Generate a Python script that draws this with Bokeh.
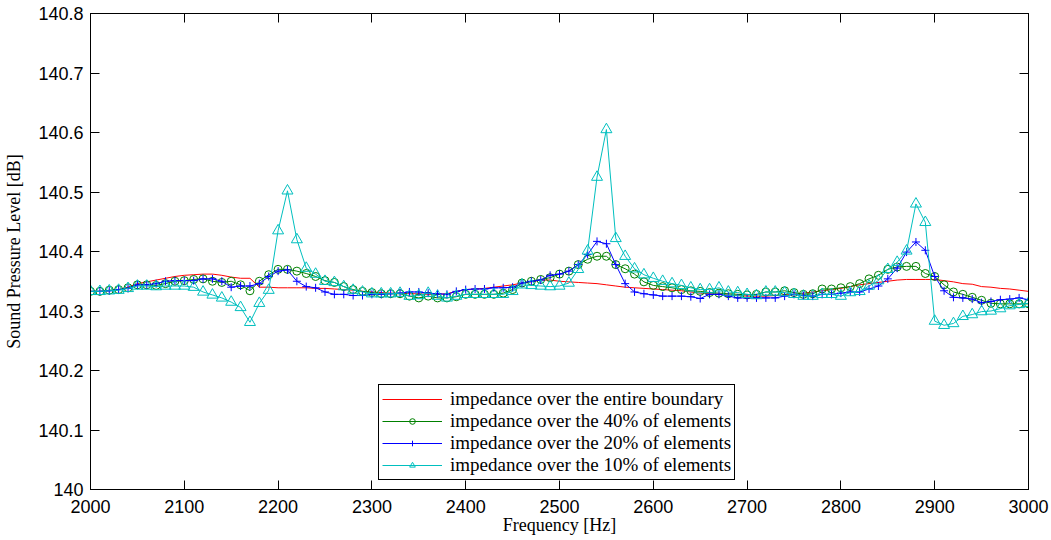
from bokeh.plotting import figure
from bokeh.models import (Range1d, FixedTicker, LinearAxis, Legend, LegendItem)
from bokeh.embed import file_html
from bokeh.resources import INLINE

freq = list(range(2000, 3001, 10))

spl_entire = [
    140.333, 140.333, 140.334, 140.336, 140.340, 140.346, 140.349, 140.352, 140.355, 140.358,
    140.360, 140.361, 140.362, 140.362, 140.360, 140.357, 140.355, 140.355, 140.340, 140.340,
    140.339, 140.339, 140.339, 140.339, 140.338, 140.338, 140.337, 140.336, 140.335, 140.333,
    140.332, 140.331, 140.330, 140.330, 140.329, 140.329, 140.328, 140.328, 140.329, 140.333,
    140.336, 140.337, 140.338, 140.340, 140.342, 140.344, 140.347, 140.349, 140.352, 140.352,
    140.350, 140.349, 140.348, 140.347, 140.346, 140.344, 140.342, 140.340, 140.339, 140.338,
    140.337, 140.336, 140.335, 140.334, 140.332, 140.330, 140.329, 140.328, 140.327, 140.326,
    140.325, 140.325, 140.325, 140.326, 140.327, 140.328, 140.330, 140.332, 140.334, 140.336,
    140.338, 140.341, 140.344, 140.346, 140.348, 140.350, 140.352, 140.353, 140.353, 140.353,
    140.353, 140.351, 140.349, 140.346, 140.345, 140.341, 140.340, 140.338, 140.337, 140.335,
    140.333]

spl_40 = [
    140.333, 140.333, 140.335, 140.336, 140.339, 140.344, 140.344, 140.343, 140.346, 140.350,
    140.351, 140.353, 140.354, 140.350, 140.348, 140.350, 140.344, 140.334, 140.350, 140.361,
    140.370, 140.370, 140.367, 140.363, 140.358, 140.351, 140.348, 140.341, 140.336, 140.333,
    140.331, 140.329, 140.329, 140.329, 140.325, 140.322, 140.325, 140.322, 140.322, 140.324,
    140.328, 140.328, 140.328, 140.328, 140.330, 140.336, 140.347, 140.350, 140.353, 140.356,
    140.362, 140.367, 140.378, 140.387, 140.392, 140.392, 140.378, 140.371, 140.362, 140.349,
    140.343, 140.341, 140.339, 140.336, 140.334, 140.333, 140.331, 140.330, 140.329, 140.328,
    140.327, 140.328, 140.332, 140.332, 140.334, 140.331, 140.328, 140.329, 140.337, 140.337,
    140.339, 140.341, 140.346, 140.354, 140.360, 140.370, 140.374, 140.375, 140.375, 140.363,
    140.358, 140.344, 140.332, 140.328, 140.323, 140.318, 140.313, 140.312, 140.312, 140.312,
    140.312]

spl_20 = [
    140.333, 140.333, 140.334, 140.336, 140.338, 140.344, 140.344, 140.346, 140.350, 140.351,
    140.351, 140.351, 140.354, 140.354, 140.350, 140.340, 140.342, 140.342, 140.346, 140.358,
    140.367, 140.369, 140.350, 140.341, 140.339, 140.332, 140.328, 140.328, 140.326, 140.326,
    140.328, 140.328, 140.329, 140.330, 140.332, 140.332, 140.330, 140.329, 140.328, 140.333,
    140.336, 140.337, 140.337, 140.339, 140.339, 140.340, 140.347, 140.350, 140.352, 140.360,
    140.362, 140.367, 140.378, 140.395, 140.417, 140.413, 140.378, 140.346, 140.332, 140.329,
    140.327, 140.325, 140.325, 140.325, 140.324, 140.321, 140.328, 140.328, 140.325, 140.322,
    140.322, 140.322, 140.322, 140.322, 140.325, 140.328, 140.326, 140.325, 140.328, 140.328,
    140.330, 140.332, 140.332, 140.337, 140.342, 140.354, 140.372, 140.399, 140.416, 140.402,
    140.358, 140.334, 140.323, 140.322, 140.320, 140.314, 140.316, 140.319, 140.320, 140.322,
    140.319]

spl_10 = [
    140.333, 140.333, 140.334, 140.335, 140.338, 140.342, 140.342, 140.341, 140.342, 140.342,
    140.342, 140.340, 140.332, 140.327, 140.322, 140.315, 140.306, 140.281, 140.313, 140.335,
    140.435, 140.502, 140.420, 140.372, 140.362, 140.350, 140.348, 140.341, 140.335, 140.332,
    140.329, 140.329, 140.329, 140.330, 140.325, 140.326, 140.330, 140.325, 140.322, 140.325,
    140.328, 140.328, 140.328, 140.328, 140.328, 140.333, 140.344, 140.343, 140.342, 140.341,
    140.342, 140.347, 140.370, 140.401, 140.525, 140.605, 140.422, 140.392, 140.371, 140.361,
    140.355, 140.350, 140.346, 140.343, 140.339, 140.336, 140.336, 140.339, 140.332, 140.331,
    140.328, 140.326, 140.332, 140.332, 140.331, 140.328, 140.325, 140.325, 140.328, 140.328,
    140.325, 140.331, 140.333, 140.342, 140.351, 140.370, 140.382, 140.401, 140.480, 140.449,
    140.283, 140.276, 140.279, 140.291, 140.294, 140.299, 140.300, 140.304, 140.309, 140.311,
    140.313]

x_ticks = [2000, 2100, 2200, 2300, 2400, 2500, 2600, 2700, 2800, 2900, 3000]
y_ticks = [140.0, 140.1, 140.2, 140.3, 140.4, 140.5, 140.6, 140.7, 140.8]
y_tick_labels = ["140", "140.1", "140.2", "140.3", "140.4", "140.5", "140.6", "140.7", "140.8"]

labels = ["impedance over the entire boundary",
          "impedance over the 40% of elements",
          "impedance over the 20% of elements",
          "impedance over the 10% of elements"]

SANS = "Liberation Sans"
SERIF = "Liberation Serif"

p = figure(width=1051, height=540, output_backend="svg", toolbar_location=None,
           x_range=Range1d(2000, 3000), y_range=Range1d(140, 140.8),
           min_border_left=90, min_border_right=23, min_border_top=13, min_border_bottom=51)
p.xgrid.visible = False
p.ygrid.visible = False
p.outline_line_color = "black"
p.outline_line_width = 1
p.outline_line_alpha = 1
p.background_fill_color = "white"
p.border_fill_color = "white"


def style_axis(ax, ticks, show_labels=True):
    ax.ticker = FixedTicker(ticks=ticks)
    ax.major_tick_in = 9
    ax.major_tick_out = 0
    ax.minor_tick_line_color = None
    ax.axis_line_color = "black"
    ax.major_tick_line_color = "black"
    ax.major_label_text_font = SANS
    if show_labels:
        ax.major_label_text_font_size = "18px"
        ax.major_label_text_color = "black"
    else:
        ax.major_label_text_font_size = "0px"
        ax.major_label_text_color = None
        ax.major_label_standoff = 0
    ax.axis_label_text_font = SERIF
    ax.axis_label_text_font_size = "18px"
    ax.axis_label_text_font_style = "normal"
    ax.axis_label_text_color = "black"


xa = p.xaxis[0]
ya = p.yaxis[0]
style_axis(xa, x_ticks)
style_axis(ya, y_ticks)
xa.axis_label = "Frequency [Hz]"
ya.axis_label = "Sound Pressure Level [dB]"
xa.major_label_standoff = 10
xa.axis_label_standoff = -1
ya.major_label_standoff = 7
ya.axis_label_standoff = 11
ya.major_label_overrides = {t: l for t, l in zip(y_ticks, y_tick_labels)}

top_ax = LinearAxis()
style_axis(top_ax, x_ticks, show_labels=False)
p.add_layout(top_ax, "above")
right_ax = LinearAxis()
style_axis(right_ax, y_ticks, show_labels=False)
p.add_layout(right_ax, "right")

RED = "#ff0000"
GREEN = "#008000"
BLUE = "#0000ff"
CYAN = "#00bfbf"

r0 = p.line(freq, spl_entire, line_color=RED, line_width=1)
l1 = p.line(freq, spl_40, line_color=GREEN, line_width=1)
m1 = p.scatter(freq, spl_40, marker="circle", size=8, line_color=GREEN, fill_color=None, line_width=1)
l2 = p.line(freq, spl_20, line_color=BLUE, line_width=1)
m2 = p.scatter(freq, spl_20, marker="cross", size=8, line_color=BLUE, line_width=1)
l3 = p.line(freq, spl_10, line_color=CYAN, line_width=1)
m3 = p.scatter(freq, spl_10, marker="triangle", size=11, line_color=CYAN, fill_color=None, line_width=1)

legend = Legend(items=[
    LegendItem(label=labels[0], renderers=[r0]),
    LegendItem(label=labels[1], renderers=[l1, m1]),
    LegendItem(label=labels[2], renderers=[l2, m2]),
    LegendItem(label=labels[3], renderers=[l3, m3]),
], location=(288, 9))
legend.label_text_font = SERIF
legend.label_text_font_size = "19px"
legend.label_text_color = "black"
legend.label_height = 20
legend.glyph_height = 14
legend.glyph_width = 60
legend.label_standoff = 8
legend.spacing = 0
legend.padding = 3
legend.margin = 0
legend.border_line_color = "black"
legend.border_line_width = 1
legend.border_line_alpha = 1
legend.background_fill_color = "white"
legend.background_fill_alpha = 1
p.add_layout(legend, "center")

open("out.html", "w").write(file_html(p, INLINE))
